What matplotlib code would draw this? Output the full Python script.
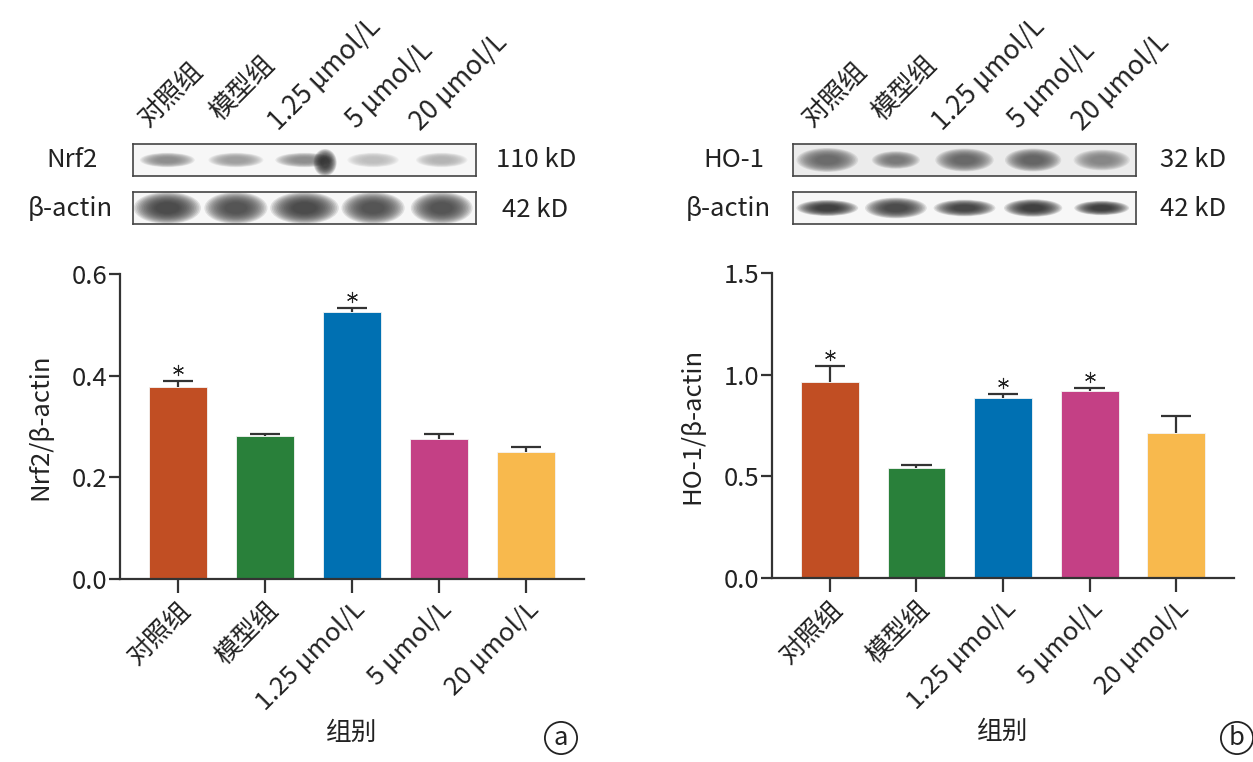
import matplotlib
matplotlib.use('Agg')
import matplotlib.pyplot as plt
from matplotlib.patches import Ellipse
from matplotlib.ticker import FormatStrFormatter
import numpy as np

plt.rcParams['font.family'] = ['Noto Sans CJK SC', 'DejaVu Sans']

groups = ['对照组', '模型组', '1.25 μmol/L', '5 μmol/L', '20 μmol/L']
colors = ['#C14E23', '#29803A', '#0070B2', '#C44085', '#F8B94D']

# panel a: Nrf2/beta-actin
nrf2_mean = [0.378, 0.281, 0.526, 0.276, 0.250]
nrf2_err = [0.012, 0.004, 0.007, 0.009, 0.010]
nrf2_sig = [True, False, True, False, False]

# panel b: HO-1/beta-actin
ho1_mean = [0.964, 0.541, 0.885, 0.920, 0.713]
ho1_err = [0.079, 0.015, 0.020, 0.015, 0.084]
ho1_sig = [True, False, True, True, False]

# blot band darkness per lane
nrf2_band = [0.5, 0.42, 0.5, 0.28, 0.32]
actin_a_band = [0.8, 0.76, 0.8, 0.76, 0.76]
ho1_band = [0.65, 0.58, 0.66, 0.68, 0.52]
actin_b_band = [0.85, 0.8, 0.82, 0.85, 0.85]

W, H = 1253, 762
fig = plt.figure(figsize=(W / 100, H / 100), dpi=100)

TXT = '#222222'
AX = '#333333'
FS = 18.5


def fx(px):
    return px / W


def fy(py):
    return 1 - py / H


def rect(x0, y0, x1, y1):
    return [fx(x0), fy(y1), (x1 - x0) / W, (y1 - y0) / H]


def soft_band(ax, xc, yc, w, h, dark, alpha=0.13, n=14):
    g = 1 - dark
    for k in range(n):
        f = 1 - k * 0.05
        ax.add_patch(Ellipse((xc, yc), w * f, h * f, color=(g, g, g),
                             alpha=alpha, lw=0))


def blot(box, band, width, height, bg='#f7f7f7'):
    ax = fig.add_axes(rect(*box))
    ax.set_xlim(0, 5)
    ax.set_ylim(0, 1)
    ax.set_facecolor(bg)
    for s in ax.spines.values():
        s.set_color('#444444')
        s.set_linewidth(1.2)
    ax.set_xticks([])
    ax.set_yticks([])
    for i, d in enumerate(band):
        soft_band(ax, i + 0.5, 0.5, width[i], height[i], d)
    return ax


def bar_panel(box, means, errs, sig, ymax, step, ylabel):
    ax = fig.add_axes(rect(*box))
    x = np.arange(len(groups))
    tops = np.array(means) + np.array(errs)
    ax.bar(x, means, width=0.667, color=colors, edgecolor='#f4f4f4',
           linewidth=0.6, zorder=2)
    # one-sided error bars (upper only)
    ax.vlines(x, means, tops, color=AX, lw=1.6, zorder=3)
    ax.hlines(tops, x - 0.175, x + 0.175, color=AX, lw=1.6, zorder=3)
    px = ymax / (box[3] - box[1])
    for xi, t, s in zip(x, tops, sig):
        if s:
            ax.plot(xi, t + 11 * px, marker=(6, 2, 0), ms=8, mew=0.8,
                    color=TXT, zorder=3)
    ax.set_xlim(-0.667, 4.667)
    ax.set_ylim(0, ymax)
    ax.set_yticks(np.arange(0, ymax + step / 2, step))
    ax.yaxis.set_major_formatter(FormatStrFormatter('%.1f'))
    ax.set_xticks(x, groups, rotation=45, ha='right', va='top',
                  rotation_mode='anchor')
    for s in ['top', 'right']:
        ax.spines[s].set_visible(False)
    for s in ['left', 'bottom']:
        ax.spines[s].set_color(AX)
        ax.spines[s].set_linewidth(1.6)
    ax.tick_params(axis='x', length=10, width=1.6, color=AX, labelsize=FS,
                   labelcolor=TXT, pad=3)
    ax.tick_params(axis='y', length=8, width=1.6, color=AX, labelsize=FS,
                   labelcolor=TXT, pad=1)
    ax.set_ylabel(ylabel, fontsize=FS, color=TXT, va='center')
    ax.yaxis.set_label_coords(-0.172, 0.5)
    ax.set_xlabel('组别', fontsize=FS, color=TXT, va='center')
    ax.xaxis.set_label_coords(0.5, -(733 - 579) / 305)
    return ax


# ---- panel a blots
nrf_ax = blot((133, 144, 476, 176), nrf2_band, [0.8, 0.8, 0.85, 0.75, 0.75], [0.45] * 5)
soft_band(nrf_ax, 2.8, 0.42, 0.34, 0.85, 0.85, alpha=0.12)
blot((133, 192, 476, 224), actin_a_band, [0.98, 0.92, 1.0, 0.92, 0.9], [1.0] * 5)

# ---- panel b blots
blot((793, 144, 1136, 176), ho1_band, [0.9, 0.7, 0.85, 0.82, 0.82],
     [0.75, 0.55, 0.72, 0.72, 0.65], bg='#ececec')
blot((793, 192, 1136, 224), actin_b_band, [0.9, 0.9, 0.9, 0.85, 0.8],
     [0.5, 0.65, 0.52, 0.55, 0.45])

# blot labels
fig.text(fx(72), fy(160), 'Nrf2', fontsize=FS, color=TXT, ha='center', va='center')
fig.text(fx(70), fy(209), 'β-actin', fontsize=FS, color=TXT, ha='center', va='center')
fig.text(fx(496), fy(160), '110 kD', fontsize=FS, color=TXT, ha='left', va='center')
fig.text(fx(502), fy(210), '42 kD', fontsize=FS, color=TXT, ha='left', va='center')
fig.text(fx(764), fy(160), 'HO-1', fontsize=FS, color=TXT, ha='right', va='center')
fig.text(fx(771), fy(209), 'β-actin', fontsize=FS, color=TXT, ha='right', va='center')
fig.text(fx(1160), fy(160), '32 kD', fontsize=FS, color=TXT, ha='left', va='center')
fig.text(fx(1160), fy(209), '42 kD', fontsize=FS, color=TXT, ha='left', va='center')

lane_a = [(148, 127), (220, 122), (278, 131), (356, 129), (420, 131)]
lane_b = [(812, 127), (882, 122), (942, 131), (1018, 129), (1082, 131)]
for lanes in (lane_a, lane_b):
    for (px, py), g in zip(lanes, groups):
        fig.text(fx(px), fy(py), g, fontsize=FS + 0.5, color=TXT, rotation=45,
                 ha='left', va='baseline', rotation_mode='anchor')

# ---- bar charts
bar_panel((120, 274, 584, 579), nrf2_mean, nrf2_err, nrf2_sig, 0.6, 0.2, 'Nrf2/β-actin')
bar_panel((772, 273, 1234, 578), ho1_mean, ho1_err, ho1_sig, 1.5, 0.5, 'HO-1/β-actin')

# panel letters
circ = dict(boxstyle='circle,pad=0.12', fc='none', ec=TXT, lw=1.3)
fig.text(fx(561), fy(738), 'a', fontsize=FS, color=TXT, ha='center', va='center', bbox=circ)
fig.text(fx(1237), fy(738), 'b', fontsize=FS, color=TXT, ha='center', va='center', bbox=circ)

fig.savefig('out.png', dpi=100)
